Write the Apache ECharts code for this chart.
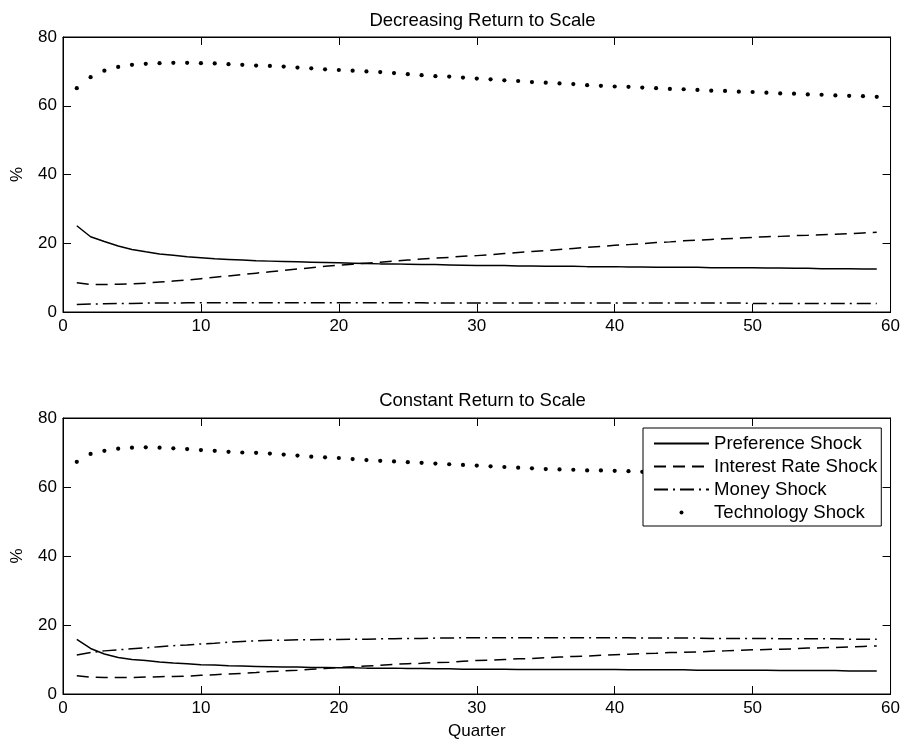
<!DOCTYPE html>
<html>
<head>
<meta charset="utf-8">
<script src="https://cdn.jsdelivr.net/npm/echarts@6/dist/echarts.min.js"></script>
<style>
html,body{margin:0;padding:0;background:#fff;}
#chart{width:903px;height:743px;}
</style>
</head>
<body>
<div id="chart"></div>
<script>
const quarters = [1,2,3,4,5,6,7,8,9,10,11,12,13,14,15,16,17,18,19,20,21,22,23,24,25,26,27,28,29,30,31,32,33,34,35,36,37,38,39,40,41,42,43,44,45,46,47,48,49,50,51,52,53,54,55,56,57,58,59];
const xTicks = [0,10,20,30,40,50,60];
const yTicks = [0,20,40,60,80];
const seriesNames = ['Preference Shock','Interest Rate Shock','Money Shock','Technology Shock'];
const panelTitles = ['Decreasing Return to Scale','Constant Return to Scale'];

// Decreasing Return to Scale
const drsPreference = [25.1,21.9,20.5,19.2,18.2,17.5,16.9,16.5,16.1,15.8,15.5,15.3,15.1,14.9,14.8,14.7,14.6,14.5,14.4,14.3,14.2,14.1,14.0,14.0,13.9,13.8,13.8,13.7,13.6,13.5,13.5,13.5,13.4,13.4,13.3,13.3,13.3,13.2,13.2,13.2,13.1,13.1,13.0,13.0,13.0,13.0,12.9,12.9,12.9,12.9,12.8,12.8,12.7,12.7,12.6,12.6,12.6,12.5,12.5];
const drsInterest = [8.5,8.0,8.0,8.1,8.2,8.4,8.7,9.0,9.3,9.7,10.1,10.5,10.9,11.3,11.7,12.1,12.5,12.9,13.3,13.6,13.9,14.2,14.5,14.8,15.1,15.4,15.7,15.9,16.2,16.4,16.7,17.0,17.3,17.6,17.9,18.2,18.5,18.8,19.1,19.4,19.6,19.9,20.2,20.4,20.7,20.9,21.1,21.3,21.5,21.7,21.9,22.0,22.2,22.3,22.5,22.6,22.8,23.0,23.2];
const drsMoney = [2.2,2.3,2.4,2.5,2.5,2.6,2.6,2.6,2.7,2.7,2.7,2.7,2.7,2.7,2.7,2.7,2.7,2.7,2.7,2.7,2.7,2.7,2.7,2.7,2.7,2.7,2.6,2.6,2.6,2.6,2.6,2.6,2.6,2.6,2.6,2.6,2.6,2.6,2.6,2.6,2.6,2.6,2.6,2.6,2.6,2.6,2.6,2.6,2.6,2.5,2.5,2.5,2.5,2.5,2.5,2.5,2.5,2.5,2.5];
const drsTechnology = [65.1,68.3,70.2,71.3,71.9,72.2,72.4,72.5,72.5,72.4,72.3,72.1,71.9,71.7,71.6,71.4,71.1,70.9,70.6,70.4,70.2,70.0,69.8,69.5,69.2,68.9,68.6,68.5,68.2,67.9,67.7,67.4,67.2,66.9,66.7,66.5,66.3,66.0,65.8,65.6,65.5,65.3,65.1,64.9,64.8,64.6,64.4,64.3,64.1,64.0,63.8,63.6,63.5,63.3,63.2,63.0,62.9,62.8,62.6];

// Constant Return to Scale
const crsPreference = [15.8,13.2,11.6,10.6,10.0,9.7,9.3,9.0,8.8,8.5,8.4,8.2,8.1,8.0,7.9,7.8,7.8,7.7,7.7,7.6,7.6,7.5,7.5,7.5,7.4,7.4,7.3,7.3,7.2,7.2,7.2,7.2,7.1,7.1,7.1,7.1,7.1,7.1,7.1,7.1,7.0,7.0,7.0,7.0,7.0,6.9,6.9,6.9,6.9,6.9,6.9,6.8,6.8,6.8,6.8,6.8,6.7,6.7,6.7];
const crsInterest = [5.3,4.9,4.8,4.8,4.8,4.9,5.0,5.1,5.2,5.4,5.6,5.8,6.0,6.2,6.5,6.7,6.9,7.2,7.4,7.7,7.9,8.1,8.3,8.6,8.8,8.9,9.1,9.2,9.5,9.7,9.8,10.0,10.2,10.3,10.5,10.7,10.9,11.0,11.2,11.4,11.5,11.7,11.8,12.0,12.1,12.2,12.4,12.5,12.7,12.8,12.9,13.0,13.1,13.3,13.4,13.5,13.6,13.8,13.9];
const crsMoney = [11.3,12.0,12.5,12.8,13.1,13.4,13.7,14.0,14.2,14.5,14.7,15.0,15.2,15.4,15.6,15.6,15.7,15.7,15.8,15.8,15.9,15.9,16.0,16.0,16.1,16.1,16.2,16.2,16.3,16.3,16.3,16.3,16.3,16.3,16.3,16.3,16.3,16.3,16.3,16.3,16.3,16.2,16.2,16.2,16.2,16.2,16.1,16.1,16.1,16.1,16.1,16.0,16.0,16.0,16.0,16.0,15.9,15.9,15.9];
const crsTechnology = [67.3,69.6,70.5,71.1,71.4,71.5,71.4,71.2,71.0,70.7,70.5,70.2,70.0,69.9,69.7,69.4,69.1,68.8,68.6,68.4,68.1,67.8,67.6,67.4,67.2,67.0,66.8,66.6,66.4,66.2,66.0,65.8,65.6,65.4,65.2,65.1,65.0,64.8,64.8,64.7,64.6,64.4,64.3,64.1,64.0,63.8,63.7,63.5,63.4,63.2,63.1,62.9,62.8,62.7,62.5,62.4,62.3,62.1,62.0];

const FONT = '"Liberation Sans", Arial, Helvetica, sans-serif';
const pairs = arr => quarters.map((q, i) => [q, arr[i]]);

const GRID_LEFT = 63, GRID_W = 829;
const grids = [
  {left: GRID_LEFT, top: 37, width: GRID_W, height: 275},
  {left: GRID_LEFT, top: 418, width: GRID_W, height: 276}
];

function xAxisPair(gi, withName) {
  const base = {
    gridIndex: gi, type: 'value', min: xTicks[0], max: xTicks[xTicks.length-1], interval: 10,
    axisLine: {show: true, onZero: false, lineStyle: {color: '#000', width: 1}},
    axisTick: {show: true, inside: true, length: 8, lineStyle: {color: '#000'}},
    splitLine: {show: false}
  };
  const bottom = Object.assign({}, base, {
    position: 'bottom',
    axisLabel: {show: true, margin: 6, color: '#000', fontSize: 17, fontFamily: FONT}
  });
  if (withName) {
    Object.assign(bottom, {name: 'Quarter', nameLocation: 'middle', nameGap: 29,
      nameTextStyle: {color: '#000', fontSize: 17, fontFamily: FONT}});
  }
  const top = Object.assign({}, base, {position: 'top', axisLabel: {show: false}});
  return [bottom, top];
}
function yAxisPair(gi) {
  const base = {
    gridIndex: gi, type: 'value', min: yTicks[0], max: yTicks[yTicks.length-1], interval: 20,
    axisLine: {show: true, onZero: false, lineStyle: {color: '#000', width: 1}},
    axisTick: {show: true, inside: true, length: 8, lineStyle: {color: '#000'}},
    splitLine: {show: false}
  };
  const left = Object.assign({}, base, {
    position: 'left', name: '%', nameLocation: 'middle', nameGap: 37, nameRotate: 90,
    nameTextStyle: {color: '#000', fontSize: 17, fontFamily: FONT},
    axisLabel: {show: true, margin: 6, color: '#000', fontSize: 17, fontFamily: FONT}
  });
  const right = Object.assign({}, base, {position: 'right', axisLabel: {show: false}});
  return [left, right];
}

const styles = [
  {type: 'solid'},
  {type: [12, 7]},
  {type: [14, 5, 2, 5]},
  null
];

function makeSeries(gi, arrs) {
  return arrs.map((arr, k) => {
    const s = {
      name: seriesNames[k], type: 'line', xAxisIndex: gi * 2, yAxisIndex: gi * 2,
      data: pairs(arr), animation: false, silent: true, z: 3
    };
    if (styles[k]) {
      s.symbol = 'none';
      s.lineStyle = {color: '#000', width: 1.5, type: styles[k].type};
      s.itemStyle = {color: '#000'};
    } else {
      s.symbol = 'circle';
      s.symbolSize = 4.2;
      s.showSymbol = true;
      s.showAllSymbol = true;
      s.itemStyle = {color: '#000', borderWidth: 0};
      s.lineStyle = {width: 0, opacity: 0};
    }
    return s;
  });
}

const option = {
  backgroundColor: '#fff',
  animation: false,
  title: [
    {text: panelTitles[0], left: GRID_LEFT + GRID_W / 2, top: 6, textAlign: 'center',
     textStyle: {color: '#000', fontSize: 18.5, fontWeight: 'normal', fontFamily: FONT}},
    {text: panelTitles[1], left: GRID_LEFT + GRID_W / 2, top: 386, textAlign: 'center',
     textStyle: {color: '#000', fontSize: 18.5, fontWeight: 'normal', fontFamily: FONT}}
  ],
  grid: grids.map(g => Object.assign({show: true, borderColor: '#000', borderWidth: 1, backgroundColor: 'transparent'}, g)),
  xAxis: [].concat(xAxisPair(0, false), xAxisPair(1, true)),
  yAxis: [].concat(yAxisPair(0), yAxisPair(1)),
  legend: {
    show: true, orient: 'vertical', left: 643, top: 428,
    data: seriesNames.map((n, k) => k < 3 ? {name: n, itemStyle: {opacity: 0}} : {name: n}),
    itemWidth: 55, itemHeight: 5, itemGap: 4,
    padding: [6, 4, 4, 10],
    backgroundColor: '#fff', borderColor: '#000', borderWidth: 1,
    textStyle: {color: '#000', fontSize: 18.6, fontFamily: FONT, lineHeight: 18},
    selectedMode: false, z: 10
  },
  series: [].concat(
    makeSeries(0, [drsPreference, drsInterest, drsMoney, drsTechnology]),
    makeSeries(1, [crsPreference, crsInterest, crsMoney, crsTechnology])
  )
};

const chart = echarts.init(document.getElementById('chart'), null, {renderer: 'canvas'});
chart.setOption(option);
</script>
</body>
</html>
